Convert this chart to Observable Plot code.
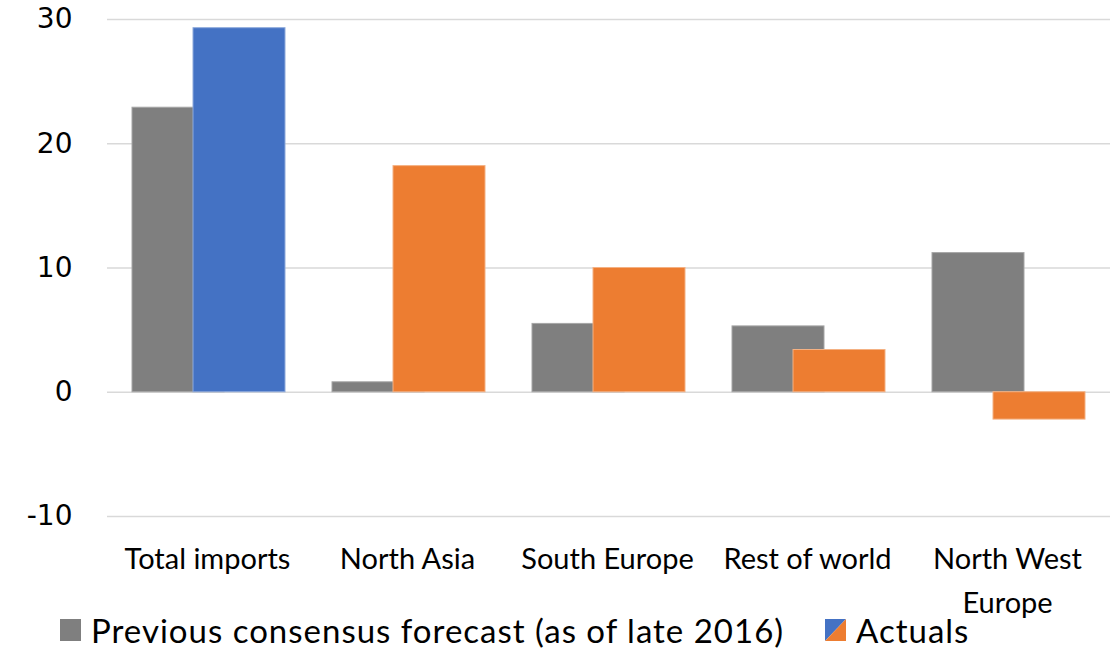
<!DOCTYPE html>
<html>
<head>
<meta charset="utf-8">
<script src="https://cdn.jsdelivr.net/npm/d3@7"></script>
<script src="https://cdn.jsdelivr.net/npm/@observablehq/plot@0.6"></script>
<style>
  html, body { margin: 0; padding: 0; background: #fff; }
  #chart { width: 1120px; height: 651px; position: relative; overflow: hidden; }
  #chart svg { overflow: visible; }
  #legend { position: absolute; left: 0; top: 608px; width: 1120px; height: 43px; font-family: Lato, sans-serif; font-size: 33px; letter-spacing: 1px; color: #000; }
  .item { position: absolute; top: 0; display: flex; align-items: center; height: 43px; }
  .item svg { margin-right: 10px; }
</style>
</head>
<body>
<div id="chart"></div>
<script>
const categories = ["Total imports", "North Asia", "South Europe", "Rest of world", "North West Europe"];
const forecast = [22.9, 0.8, 5.5, 5.3, 11.2];
const actuals = [29.3, 18.2, 10.0, 3.4, -2.2];
const yTicks = [-10, 0, 10, 20, 30];
const seriesNames = ["Previous consensus forecast (as of late 2016)", "Actuals"];

const rows = categories.map((c, i) => ({category: c, forecast: forecast[i], actual: actuals[i], i}));

const plot = Plot.plot({
  width: 1120,
  height: 608,
  marginLeft: 107,
  marginRight: 13,
  marginTop: 19,
  marginBottom: 92,
  x: {domain: categories, padding: 0, label: null},
  y: {domain: [-10, 30], label: null},
  marks: [
    Plot.ruleY(yTicks, {stroke: "#d9d9d9", strokeWidth: 1.5, insetRight: -3}),
    Plot.barY(rows, {x: "category", y: "forecast", fill: "#7f7f7f", stroke: "#a6a6a6", strokeWidth: 1, insetLeft: 25, insetRight: 83}),
    Plot.barY(rows, {x: "category", y: "actual", fill: d => d.i === 0 ? "#4472c4" : "#ed7d31", stroke: d => d.i === 0 ? "#8eaadb" : "#f4b183", strokeWidth: 1, insetLeft: 86, insetRight: 22}),
    Plot.axisY({ticks: yTicks, tickSize: 0, tickPadding: 35, fontFamily: "DejaVu Sans", fontSize: 28, tickFormat: d => String(d), label: null}),
    Plot.axisX({tickSize: 0, tickPadding: 22, fontFamily: "Lato", fontSize: 29, lineHeight: 1.5, tickFormat: d => d === "North West Europe" ? "North West\nEurope" : d, label: null})
  ]
});
document.getElementById("chart").appendChild(plot);

const legend = document.createElement("div");
legend.id = "legend";
legend.innerHTML = `
  <div class="item" style="left:60px"><svg width="21" height="22"><rect width="21" height="22" fill="#7f7f7f"/></svg><span>${seriesNames[0]}</span></div>
  <div class="item" style="left:825px"><svg width="21" height="22"><polygon points="0,0 21,0 0,22" fill="#4472c4"/><polygon points="21,0 21,22 0,22" fill="#ed7d31"/></svg><span>${seriesNames[1]}</span></div>`;
document.getElementById("chart").appendChild(legend);
</script>
</body>
</html>
